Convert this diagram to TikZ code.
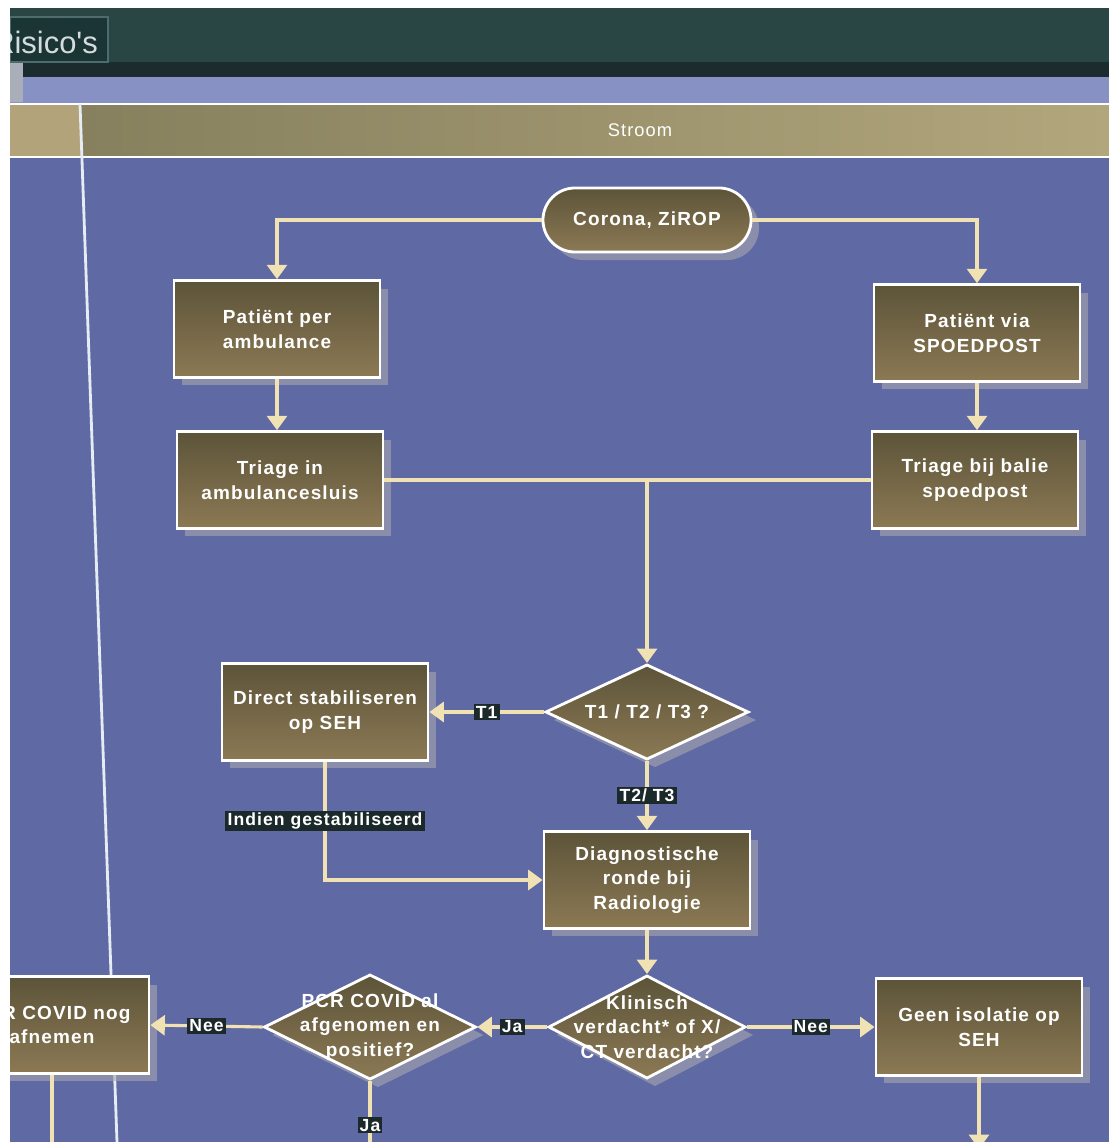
\documentclass[tikz,border=0pt]{standalone}
\usepackage{fontspec}
\setmainfont[LetterSpace=6]{Liberation Sans}
\newfontfamily\tabfont{Liberation Sans}
\usetikzlibrary{shapes.geometric,arrows.meta,shadows}
\definecolor{bodybg}{HTML}{5F69A3}
\definecolor{topband}{HTML}{2A4644}
\definecolor{stripe}{HTML}{1C2C2E}
\definecolor{peri}{HTML}{8891C4}
\definecolor{graybl}{HTML}{A9AEB9}
\definecolor{hdrleft}{HTML}{B3A37A}
\definecolor{hdrA}{HTML}{86805E}
\definecolor{hdrB}{HTML}{B2A67C}
\definecolor{tabbg}{HTML}{1B3535}
\definecolor{tabline}{HTML}{4E6C6C}
\definecolor{tabtext}{HTML}{D5DCDD}
\definecolor{boxtop}{HTML}{5C5439}
\definecolor{boxbot}{HTML}{8C7954}
\definecolor{conncol}{HTML}{F1E2B4}
\definecolor{lblbg}{HTML}{1B292B}
\definecolor{shadowc}{HTML}{A8A8B0}
\definecolor{laneline}{HTML}{E6ECF4}
\begin{document}
\begin{tikzpicture}[x=0.025cm,y=-0.025cm,
  txt/.style={text=white,font=\bfseries\fontsize{13.5}{17.5}\selectfont,align=center},
  shd/.style={drop shadow={shadow xshift=0.2cm,shadow yshift=-0.2cm,opacity=0.6,fill=shadowc}},
  stepbox/.style={txt,shd,rectangle,draw=white,line width=2pt,top color=boxtop,bottom color=boxbot,minimum width=5.15cm,minimum height=2.42cm,inner sep=2pt},
  startbox/.style={txt,shd,rectangle,rounded corners=0.8cm,draw=white,line width=2pt,top color=boxtop,bottom color=boxbot,minimum width=5.2cm,minimum height=1.6cm},
  decide/.style={shd,diamond,draw=white,line width=2pt,top color=boxtop,bottom color=boxbot,inner sep=0pt},
  cline/.style={draw=conncol,line width=2.2pt},
  carrow/.style={cline,-{Triangle[length=0.36cm,width=0.5cm]}},
  lbl/.style={fill=lblbg,text=white,font=\bfseries\fontsize{12.5}{14}\selectfont,inner sep=1.5pt}
]
\useasboundingbox (0,0) rectangle (1109,1142);
% backgrounds
\fill[bodybg] (0,0) rectangle (1109,1142);
\fill[topband] (0,0) rectangle (1109,62);
\fill[stripe] (0,62) rectangle (1109,77);
\fill[peri] (0,77) rectangle (1109,103);
\fill[graybl] (0,62) rectangle (23,102);
% tab
\draw[fill=tabbg,draw=tabline,line width=1pt] (10,17) rectangle (108,62);
\begin{scope}
\clip (10,17) rectangle (108,62);
\node[anchor=west,inner sep=0pt,text=tabtext,font=\tabfont\fontsize{22}{22}\selectfont] (tabtxt) at (-8,42) {Risico's};
\end{scope}
% header
\fill[hdrleft] (0,104) rectangle (81,157);
\shade[left color=hdrA,right color=hdrB] (81,104) rectangle (1109,157);
\draw[white,line width=2pt] (0,104) -- (1109,104);
\draw[white,line width=2pt] (0,157) -- (1109,157);
\node[text=white,font=\fontsize{13}{15}\selectfont] (hdr) at (640,130) {Stroom};
% lane line
\draw[laneline,line width=2pt] (80,104) -- (117,1142);

% nodes
\node[startbox] (corona) at (647,220) {Corona, ZiROP};
\node[stepbox] (pper) at (277,329) {Patiënt per\\ambulance};
\node[stepbox] (pvia) at (977,333) {Patiënt via\\SPOEDPOST};
\node[stepbox] (tin) at (280,480) {Triage in\\ambulancesluis};
\node[stepbox] (tbij) at (975,480) {Triage bij balie\\spoedpost};
\node[decide,minimum width=5.08cm,minimum height=2.38cm,label={[txt]center:T1 / T2 / T3 ?}] (dT) at (647,712) {};
\node[stepbox] (direct) at (325,712) {Direct stabiliseren\\op SEH};
\node[stepbox] (diag) at (647,880) {Diagnostische\\ronde bij\\Radiologie};
\node[decide,minimum width=4.93cm,minimum height=2.58cm,label={[txt]center:{Klinisch\\verdacht* of X/\\CT verdacht?}}] (dK) at (647,1027) {};
\node[stepbox] (geen) at (979,1027) {Geen isolatie op\\SEH};
\node[decide,minimum width=5.3cm,minimum height=2.63cm,label={[txt]center:{PCR COVID al\\afgenomen en\\positief?}}] (dP) at (370,1027) {};
\node[stepbox,minimum width=4.85cm] (pnog) at (52,1025) {PCR COVID nog\\afnemen};

\coordinate (j1) at (647,480);
\coordinate (gbot) at (979,1149);
\coordinate (pbot) at (370,1150);
\coordinate (nbot) at (52,1150);

% connectors
\draw[carrow] (corona.west) -| (pper.north);
\draw[carrow] (corona.east) -| (pvia.north);
\draw[carrow] (pper.south) -- (pper.south |- tin.north);
\draw[carrow] (pvia.south) -- (pvia.south |- tbij.north);
\draw[cline] (tin.east) -- (tbij.west);
\draw[carrow] (j1) -- (dT.north);
\draw[carrow] (dT.west) -- node[lbl]{T1} (direct.east);
\draw[carrow] (dT.south) -- node[lbl]{T2/ T3} (diag.north);
\draw[carrow] (direct.south) |- node[lbl,pos=0.25]{Indien gestabiliseerd} (diag.west);
\draw[carrow] (diag.south) -- (dK.north);
\draw[carrow] (dK.east) -- node[lbl]{Nee} (geen.west);
\draw[carrow] (dK.west) -- node[lbl]{Ja} (dP.east);
\draw[carrow] (dP.west) -- node[lbl]{Nee} (pnog.east);
\draw[cline] (dP.south) -- node[lbl,pos=0.64]{Ja} (pbot);
\draw[cline] (pnog.south) -- (nbot);
\draw[carrow] (geen.south) -- (gbot);

% photo margins
\fill[white] (0,0) rectangle (10,1142);
\fill[white] (0,0) rectangle (1109,8);
\end{tikzpicture}
\end{document}
